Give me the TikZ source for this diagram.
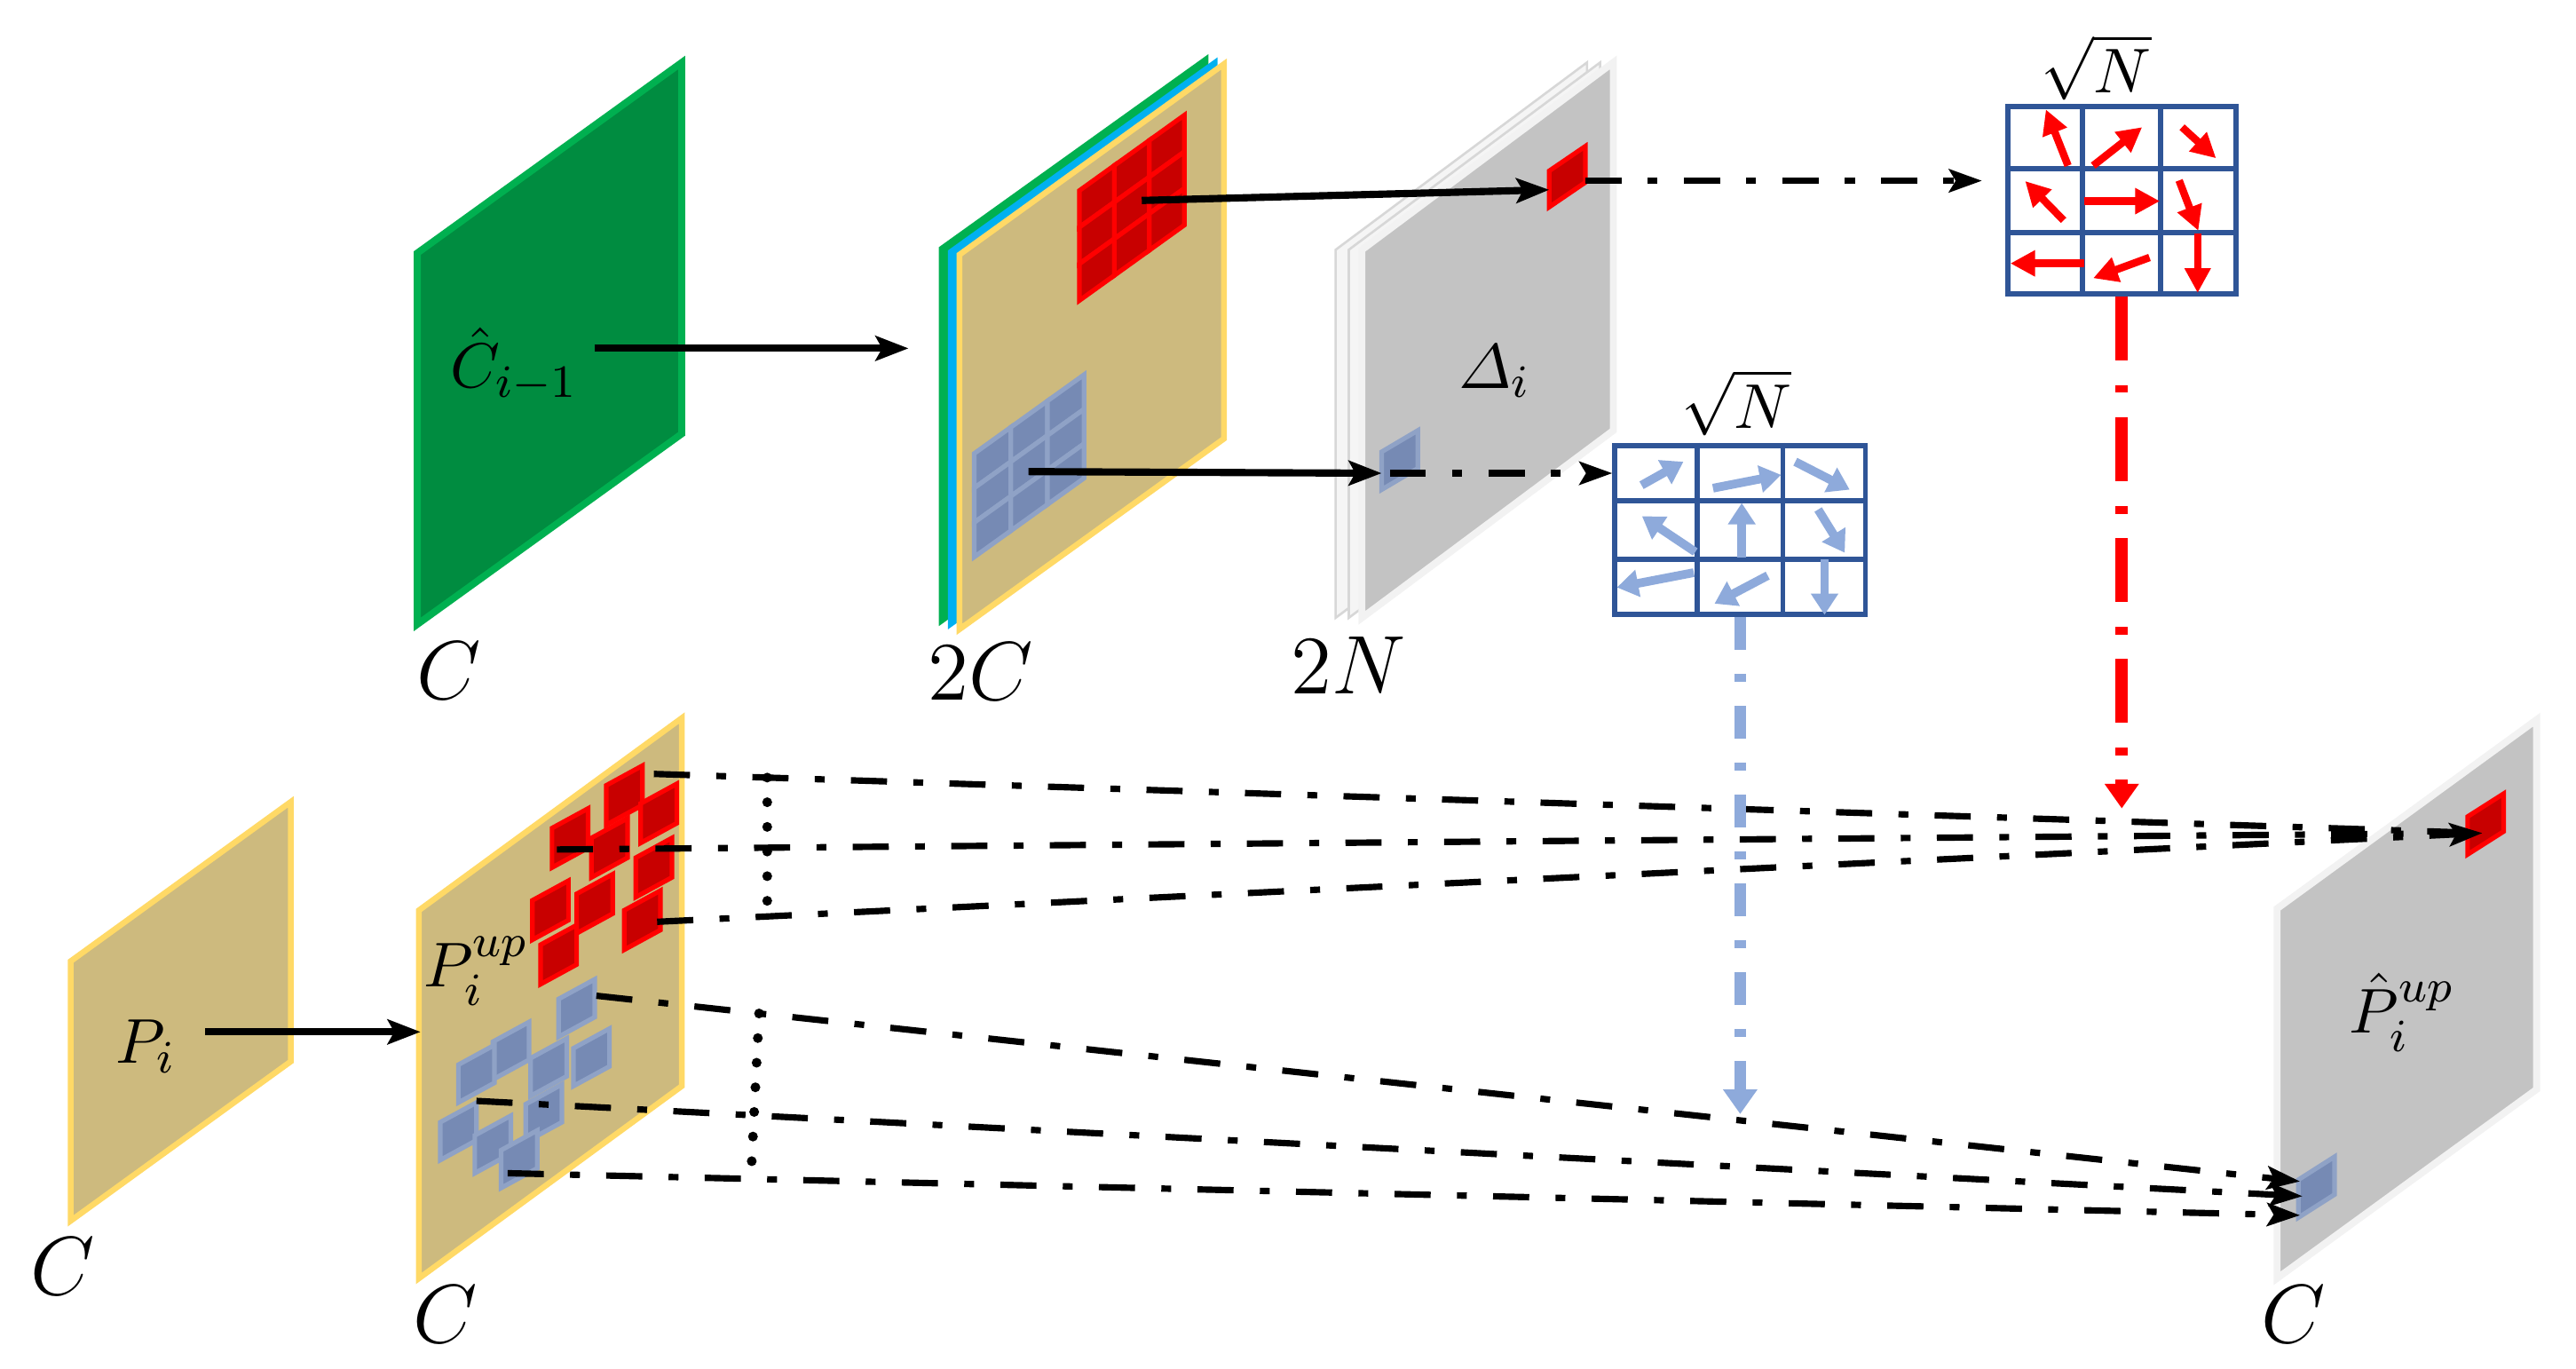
\documentclass[tikz,border=0pt]{standalone}
\usepackage{amsmath}
\usetikzlibrary{arrows.meta,calc}

\definecolor{fmgreen}{RGB}{0,140,64}
\definecolor{fmgreenedge}{RGB}{0,176,80}
\definecolor{fmcyan}{RGB}{0,176,240}
\definecolor{fmtan}{RGB}{205,186,126}
\definecolor{fmtanedge}{RGB}{255,217,102}
\definecolor{fmgray}{RGB}{195,195,195}
\definecolor{fmgrayedge}{RGB}{242,242,242}
\definecolor{fmsheet}{RGB}{245,245,245}
\definecolor{fmsheetedge}{RGB}{215,215,215}
\definecolor{cellred}{RGB}{200,0,0}
\definecolor{cellblue}{RGB}{118,138,180}
\definecolor{cellblueedge}{RGB}{143,162,198}
\definecolor{gridblue}{RGB}{47,85,151}
\definecolor{offblue}{RGB}{142,170,219}

% skewed feature map: [style]{x}{y of top-left}{width}{height}{rise}
\newcommand{\fmap}[6][]{%
  \filldraw[#1] (#2,#3) -- ++(#4,-#6) -- ++(0,#5) -- ++(-#4,#6) -- cycle;}

\tikzset{
  green map/.style={fill=fmgreen,draw=fmgreenedge,line width=1.2pt},
  tan map/.style={fill=fmtan,draw=fmtanedge,line width=1pt},
  gray map/.style={fill=fmgray,draw=fmgrayedge,line width=1.2pt},
  sheet/.style={fill=fmsheet,draw=fmsheetedge,line width=0.4pt},
  red cell/.style={fill=cellred,draw=red,line width=0.8pt},
  blue cell/.style={fill=cellblue,draw=cellblueedge,line width=0.8pt},
  big lbl/.style={font=\fontsize{13.5}{16}\selectfont,inner sep=0pt},
  small lbl/.style={font=\fontsize{11}{13}\selectfont,inner sep=0pt},
  root lbl/.style={font=\fontsize{11}{13}\selectfont,inner sep=0pt},
  grid box/.style={draw=gridblue,line width=0.9pt,fill=white,inner sep=0pt},
  flow/.style={line width=1.25pt,-{Stealth[length=2mm,width=1.5mm,inset=0.4mm]}},
  sample/.style={line width=1.1pt,dash pattern=on 2.2mm off 1.6mm on 0.6mm off 1.6mm,
    -{Stealth[length=2mm,width=1.4mm,inset=0.4mm]}},
  sample end/.style={line width=1.1pt,dash pattern=on 2.2mm off 1.6mm on 0.6mm off 1.6mm},
  gather/.style={line width=1.7pt,dash pattern=on 0pt off 1.5mm,line cap=round},
  red off/.style={red,line width=2.1pt,dash pattern=on 3.9mm off 1.5mm on 0.45mm off 1.5mm,
    -{Triangle[length=1.5mm,width=2mm]}},
  blue off/.style={offblue,line width=2.1pt,dash pattern=on 2mm off 1.45mm on 0.5mm off 1.45mm,
    -{Triangle[length=1.5mm,width=2mm]}},
  red vec/.style={red,line width=1.3pt,-{Triangle[length=1.5mm,width=1.5mm]}},
  blue vec/.style={offblue,line width=1.5pt,-{Triangle[length=1.3mm,width=1.6mm]}},
}

\begin{document}
\begin{tikzpicture}[x=0.1mm,y=-0.1mm]
  \useasboundingbox (0,0) rectangle (1568,833);

  % ---- top row: context, concatenation, offsets
  \fmap[green map]{254}{154}{161}{226}{116}
  \node[big lbl] (lblCa) at (273,408) {$C$};
  \node[small lbl] (lblChat) at (313,222) {$\hat{C}_{i-1}$};

  \fmap[fill=fmgreenedge,draw=fmgreenedge,line width=0.6pt]{572.5}{151}{162}{228}{116}
  \fmap[fill=fmcyan,draw=fmcyan,line width=0.6pt]{578}{153}{162}{228}{116}
  \fmap[tan map]{584}{155}{161}{228}{116}
  \node[big lbl] (lblCc) at (597,409) {$2C$};

  % 3x3 windows on the concatenated map
  \foreach \i in {0,1,2}{\foreach \j in {0,1,2}{
    \fmap[red cell]{657+21.3*\i}{116-15.3*\i+22.3*\j}{21.3}{22.3}{15.3}
    \fmap[blue cell]{593+22.3*\i}{276-16*\i+21*\j}{22.3}{21}{16}}}

  \fmap[sheet]{813}{152}{153}{224}{114}
  \fmap[sheet]{821}{152}{153}{224}{114}
  \fmap[gray map]{829}{152}{153}{224}{114}
  \node[big lbl] (lblN) at (821,405) {$2N$};
  \node[small lbl] (lblDelta) at (910,226) {$\varDelta_i$};
  \fmap[red cell]{943}{104}{22}{22}{15}
  \fmap[blue cell]{841}{275}{22}{23}{13}

  % offset grids
  \node[grid box,minimum width=13.9mm,minimum height=11.4mm] (rgrid) at (1291.5,122) {};
  \node[grid box,minimum width=15.25mm,minimum height=10.3mm] (bgrid) at (1059.25,322.6) {};
  \foreach \g in {rgrid,bgrid}{
    \foreach \t in {1,2}{
      \draw[gridblue,line width=0.9pt] ($(\g.north west)!\t/3!(\g.north east)$) -- ($(\g.south west)!\t/3!(\g.south east)$);
      \draw[gridblue,line width=0.9pt] ($(\g.north west)!\t/3!(\g.south west)$) -- ($(\g.north east)!\t/3!(\g.south east)$);}}
  \node[root lbl] (lblRoot) at (1276,41) {$\sqrt{N}$};
  \node[root lbl] (lblRootb) at (1057,245) {$\sqrt{N}$};

  \draw[red vec] (1258.8,100.8) -- (1245.3,66.6);
  \draw[red vec] (1274.1,100.8) -- (1303.9,77.4);
  \draw[red vec] (1328.2,77.4) -- (1348.9,96.3);
  \draw[red vec] (1256.1,134.1) -- (1232.7,110.2);
  \draw[red vec] (1268.7,122.4) -- (1314.7,122.4);
  \draw[red vec] (1326.4,109.8) -- (1338.1,140.4);
  \draw[red vec] (1268.7,160.3) -- (1223.7,160.3);
  \draw[red vec] (1308.4,156.7) -- (1274.1,169.3);
  \draw[red vec] (1337.7,142.3) -- (1337.7,178.3);

  \draw[blue vec] (999.2,295.3) -- (1024.7,281);
  \draw[blue vec] (1042.7,297.1) -- (1084.2,289);
  \draw[blue vec] (1092.8,281) -- (1125.9,298);
  \draw[blue vec] (1031.9,335.9) -- (999.5,314.2);
  \draw[blue vec] (1060.2,339.5) -- (1060.2,306.1);
  \draw[blue vec] (1106.7,310.1) -- (1122.9,336.4);
  \draw[blue vec] (1031,348.5) -- (984.2,357.5);
  \draw[blue vec] (1076,350.3) -- (1043.6,367.4);
  \draw[blue vec] (1110.6,340.4) -- (1110.6,374.2);

  % top-row connectors
  \coordinate (chatout) at (362,212);
  \coordinate (catin) at (553,212);
  \coordinate (rwin) at (695,122);
  \coordinate (rpix) at (943,115.5);
  \coordinate (rpixR) at (965,110);
  \coordinate (bwin) at (626,287);
  \coordinate (bpix) at (841,288);
  \coordinate (bpixR) at (846,288);
  \draw[flow] (chatout) -- (catin);
  \draw[flow] (rwin) -- (rpix);
  \draw[flow] (bwin) -- (bpix);
  \draw[sample,shorten >=1.4mm] (rpixR) -- (rgrid.west |- rpixR);
  \draw[sample] (bpixR) -- (bgrid.west |- bpixR);

  % ---- bottom row: upsampling and resampling
  \fmap[tan map]{43}{585}{134}{158}{97}
  \node[big lbl] (lblCb) at (38,771) {$C$};
  \node[small lbl] (lblP) at (89,637) {$P_i$};

  \fmap[tan map]{255}{554}{160}{224}{117}
  \node[big lbl] (lblCd) at (271,800) {$C$};
  \node[small lbl] (lblPup) at (290,591) {$P_i^{up}$};
  \foreach \x/\y in {369/478,390/489,336/504,360/510,387/522,324/548,351/544,380/554,329/575}
    {\fmap[red cell]{\x}{\y}{22}{24}{12}}
  \foreach \x/\y in {340/608,300/634,349/638,323/644,279/648,320/672,268/683,289/691,305/700}
    {\fmap[blue cell]{\x}{\y}{22}{23}{12}}

  \fmap[gray map]{1386}{553}{158}{225}{115}
  \node[big lbl] (lblCe) at (1396,800) {$C$};
  \node[small lbl] (lblPhat) at (1462,616) {$\hat{P}_i^{up}$};
  \fmap[red cell]{1502}{497}{22}{23}{14}
  \fmap[blue cell]{1399}{718}{22}{23}{14}

  \coordinate (pin) at (125,628);
  \coordinate (pupin) at (256,628);
  \draw[flow] (pin) -- (pupin);

  % sampled positions -> output pixels
  \coordinate (ra) at (398,471);
  \coordinate (rb) at (339,517);
  \coordinate (rc) at (400,561);
  \coordinate (rout) at (1511,507);
  \coordinate (ba) at (363,606);
  \coordinate (bb) at (290,670);
  \coordinate (bc) at (309,714);
  \coordinate (bouta) at (1400,719);
  \coordinate (boutb) at (1401.5,728);
  \coordinate (boutc) at (1400,739.6);
  \draw[sample end] (ra) -- (rout);
  \draw[sample end] (rb) -- (rout);
  \draw[sample] (rc) -- (rout);
  \draw[sample] (ba) -- (bouta);
  \draw[sample] (bb) -- (boutb);
  \draw[sample] (bc) -- (boutc);
  \draw[gather] ($(ra)!0.062!(rout)$) -- ($(rc)!0.0603!(rout)$);
  \draw[gather] ($(ba)!0.0955!(bouta)$) -- ($(bc)!0.1357!(boutc)$);

  % offsets applied to the output
  \coordinate (rdown) at (1291.5,492);
  \coordinate (bdown) at (1059.25,678);
  \draw[red off] (rgrid.south) -- (rdown);
  \draw[blue off] (bgrid.south) -- (bdown);
\end{tikzpicture}
\end{document}
